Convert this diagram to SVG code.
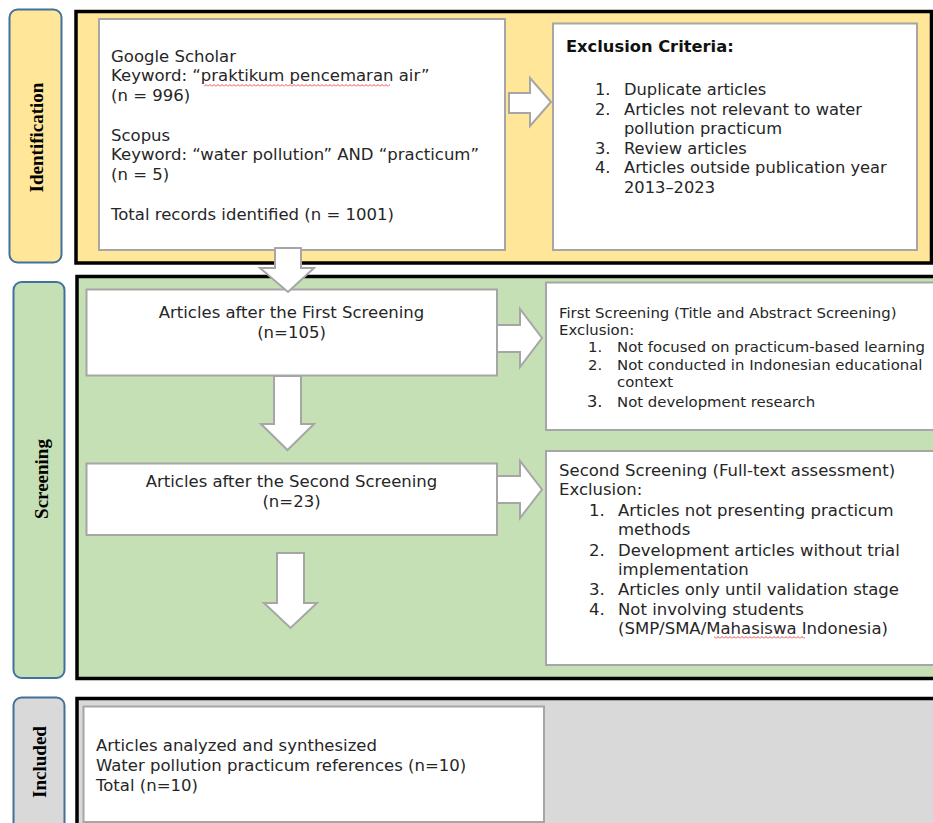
<svg xmlns="http://www.w3.org/2000/svg" width="933" height="823" viewBox="0 0 933 823">
<style>
.t{font-family:"DejaVu Sans",Verdana,sans-serif;font-size:16.3px;fill:#262626}
.tb{font-family:"DejaVu Sans",Verdana,sans-serif;font-size:16.3px;font-weight:bold;fill:#111}
.s{font-size:16.5px}
.sm{font-size:14.9px}
.lab{font-family:"Liberation Serif","Times New Roman",serif;font-weight:bold;font-size:19px;fill:#000}
.panel{stroke:#000;stroke-width:3.5}
.side{stroke:#41719C;stroke-width:2}
.box{fill:#fff;stroke:#A6A6A6;stroke-width:2}
.arr{fill:#fff;stroke:#A6A6A6;stroke-width:2;stroke-linejoin:miter}
</style>
<defs>
<pattern id="sq" width="4" height="3" patternUnits="userSpaceOnUse">
<path d="M0,2.5 L2,0.5 L4,2.5" fill="none" stroke="#E02020" stroke-width="0.8"/>
</pattern>
</defs>
<rect width="933" height="823" fill="#fff"/>

<g id="stage-identification">
<rect x="9.5" y="9.5" width="52" height="253" rx="8" fill="#FFE699" class="side"/>
<text class="lab" text-anchor="middle" transform="translate(43,137.5) rotate(-90)">Identification</text>
<rect x="76" y="11.5" width="855.5" height="251.5" fill="#FFE699" class="panel"/>
</g>
<g id="stage-screening">
<rect x="13.5" y="282" width="51" height="396" rx="8" fill="#C5E0B4" class="side"/>
<text class="lab" text-anchor="middle" transform="translate(47.5,479) rotate(-90)">Screening</text>
<rect x="77" y="276.5" width="870" height="402" fill="#C5E0B4" class="panel"/>
</g>
<g id="stage-included">
<rect x="13.5" y="697.5" width="51" height="150" rx="8" fill="#D9D9D9" class="side"/>
<text class="lab" text-anchor="middle" transform="translate(45.5,762) rotate(-90)">Included</text>
<rect x="77" y="698.5" width="870" height="150" fill="#D9D9D9" class="panel"/>
</g>

<g id="node-records-identified">
<rect x="99" y="19" width="406" height="231" class="box"/>
<text class="t s" x="111" y="61.5">Google Scholar</text>
<text class="t s" x="111" y="81">Keyword: “praktikum pencemaran air”</text>
<rect x="204" y="84" width="186" height="3" fill="url(#sq)"/>
<text class="t s" x="111" y="100.5">(n = 996)</text>
<text class="t s" x="111" y="140.5">Scopus</text>
<text class="t s" x="111" y="160">Keyword: “water pollution” AND “practicum”</text>
<text class="t s" x="111" y="179.5">(n = 5)</text>
<text class="t s" x="111" y="219.5">Total records identified (n = 1001)</text>
</g>

<g id="node-exclusion-criteria">
<rect x="553" y="23.5" width="364" height="226.5" class="box"/>
<text class="tb" x="566" y="52">Exclusion Criteria:</text>
<text class="t" x="595" y="95">1.</text><text class="t" x="624" y="95">Duplicate articles</text>
<text class="t" x="595" y="114.5">2.</text><text class="t" x="624" y="114.5">Articles not relevant to water</text>
<text class="t" x="624" y="134">pollution practicum</text>
<text class="t" x="595" y="153.5">3.</text><text class="t" x="624" y="153.5">Review articles</text>
<text class="t" x="595" y="173">4.</text><text class="t" x="624" y="173">Articles outside publication year</text>
<text class="t" x="624" y="192.5">2013–2023</text>
</g>

<g id="node-first-screening">
<rect x="86.5" y="289.5" width="410.5" height="86" class="box"/>
<text class="t s" x="291.5" y="318" text-anchor="middle">Articles after the First Screening</text>
<text class="t s" x="291.5" y="337.5" text-anchor="middle">(n=105)</text>
</g>

<g id="node-first-exclusion">
<rect x="546" y="282.5" width="400" height="147.5" class="box"/>
<text class="t sm" x="559" y="317.5">First Screening (Title and Abstract Screening)</text>
<text class="t sm" x="559" y="335">Exclusion:</text>
<text class="t sm" x="588" y="352">1.</text><text class="t sm" x="617" y="352">Not focused on practicum-based learning</text>
<text class="t sm" x="588" y="369.5">2.</text><text class="t sm" x="617" y="369.5">Not conducted in Indonesian educational</text>
<text class="t sm" x="617" y="387">context</text>
<text class="t" x="587" y="407">3.</text><text class="t sm" x="617" y="407">Not development research</text>
</g>

<g id="node-second-screening">
<rect x="86.5" y="463.5" width="410.5" height="71.5" class="box"/>
<text class="t s" x="291.5" y="487" text-anchor="middle">Articles after the Second Screening</text>
<text class="t s" x="291.5" y="507" text-anchor="middle">(n=23)</text>
</g>

<g id="node-second-exclusion">
<rect x="546" y="451" width="400" height="214" class="box"/>
<text class="t s" x="559" y="476">Second Screening (Full-text assessment)</text>
<text class="t s" x="559" y="495">Exclusion:</text>
<text class="t s" x="589" y="515.5">1.</text><text class="t s" x="618" y="515.5">Articles not presenting practicum</text>
<text class="t s" x="618" y="534.5">methods</text>
<text class="t s" x="589" y="555.5">2.</text><text class="t s" x="618" y="555.5">Development articles without trial</text>
<text class="t s" x="618" y="574.5">implementation</text>
<text class="t s" x="589" y="595">3.</text><text class="t s" x="618" y="595">Articles only until validation stage</text>
<text class="t s" x="589" y="614.5">4.</text><text class="t s" x="618" y="614.5">Not involving students</text>
<text class="t s" x="618" y="634">(SMP/SMA/Mahasiswa Indonesia)</text>
<rect x="714" y="636" width="91" height="3" fill="url(#sq)"/>
</g>

<g id="node-included">
<rect x="83.5" y="706.5" width="460.5" height="115.5" class="box"/>
<text class="t s" x="96" y="751">Articles analyzed and synthesized</text>
<text class="t s" x="96" y="771">Water pollution practicum references (n=10)</text>
<text class="t s" x="96" y="791">Total (n=10)</text>
</g>

<g id="connectors">
<polygon class="arr" points="509,93 530,93 530,78 551,102 530,126 530,113 509,113"/>
<polygon class="arr" points="275,248 301,248 301,268 314,268 288,292 260,268 275,268"/>
<polygon class="arr" points="497,325 520,325 520,309 542,338 520,367 520,352 497,352"/>
<polygon class="arr" points="274,376 301,376 301,424 314,424 287.5,450 261,424 274,424"/>
<polygon class="arr" points="497,476 520,476 520,461 542,489.5 520,518 520,503 497,503"/>
<polygon class="arr" points="277,553 304,553 304,603 317,603 290.5,628 264,603 277,603"/>
</g>
</svg>
